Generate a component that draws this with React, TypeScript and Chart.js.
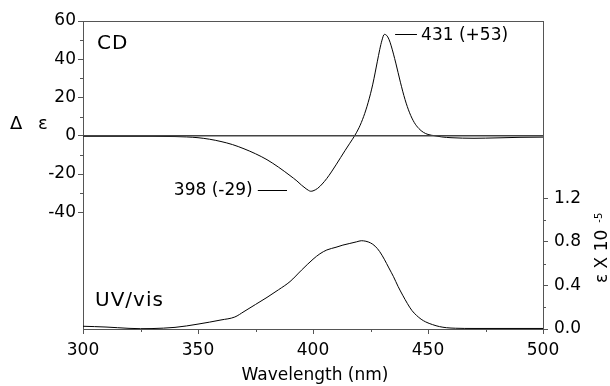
import { useEffect, useRef } from 'react';
import { Chart, registerables } from 'chart.js';

Chart.register(...registerables);

const cdWavelengths = [300, 310, 320, 330, 340, 345, 350, 355, 360, 365, 370, 375, 380, 385, 390, 393, 395, 397, 398, 399, 400, 402, 404, 406, 408, 410, 412, 414, 416, 418, 420, 422, 424, 426, 428, 429, 430, 431, 432, 433, 434, 436, 438, 440, 442, 444, 446, 448, 450, 453, 456, 460, 470, 480, 490, 500];
const cdValues = [-0.3, -0.3, -0.3, -0.3, -0.4, -0.6, -1.0, -1.8, -3.0, -4.6, -6.8, -9.4, -12.5, -16.4, -20.8, -23.6, -25.8, -27.7, -28.5, -29, -28.8, -27.5, -25.2, -22.3, -18.9, -15.2, -11.4, -7.6, -3.9, -0.2, 4.2, 10, 17.5, 27, 39, 45, 50, 53, 52.5, 50.5, 47, 38, 28, 19, 12, 7, 3.8, 1.8, 0.7, 0, -0.6, -1, -1.3, -1.1, -0.8, -0.7];

const uvWavelengths = [300, 305, 310, 315, 320, 325, 330, 335, 340, 345, 350, 355, 360, 366, 370, 375, 380, 385, 390, 395, 400, 403, 406, 410, 413, 416, 419, 421, 423, 425, 427, 429, 431, 433, 435, 437, 439, 441, 443, 445, 447, 449, 452, 455, 458, 462, 470, 480, 490, 500];
const uvValues = [0.025, 0.022, 0.018, 0.012, 0.006, 0.003, 0.004, 0.008, 0.015, 0.028, 0.045, 0.063, 0.083, 0.11, 0.16, 0.225, 0.29, 0.36, 0.435, 0.54, 0.64, 0.69, 0.725, 0.75, 0.77, 0.785, 0.8, 0.81, 0.805, 0.79, 0.76, 0.71, 0.64, 0.56, 0.48, 0.39, 0.31, 0.235, 0.17, 0.125, 0.09, 0.065, 0.04, 0.022, 0.012, 0.007, 0.005, 0.005, 0.005, 0.005];

const xTicks = [300, 350, 400, 450, 500];
const xMinorTicks = [325, 375, 425, 475];
const cdTicks = [-40, -20, 0, 20, 40, 60];
const cdMinorTicks = [-30, -10, 10, 30, 50];
const uvTicks = [0, 0.4, 0.8, 1.2];
const uvMinorTicks = [0.2, 0.6, 1.0];

const FONT = '"DejaVu Sans", sans-serif';
const AXIS = '#555';

const decorPlugin = {
  id: 'decor',
  afterDraw(chart: any) {
    const ctx = chart.ctx as CanvasRenderingContext2D;
    const { left, right, top, bottom } = chart.chartArea;
    const xs = chart.scales.x;
    const ys = chart.scales.y;
    const y2s = chart.scales.y2;
    ctx.save();
    ctx.strokeStyle = AXIS;
    ctx.lineWidth = 1;
    // top frame line
    ctx.beginPath();
    ctx.moveTo(left, Math.round(top) + 0.5);
    ctx.lineTo(right, Math.round(top) + 0.5);
    ctx.stroke();
    // minor ticks
    const mlen = 3;
    ctx.beginPath();
    xMinorTicks.forEach((v) => {
      const px = Math.round(xs.getPixelForValue(v)) + 0.5;
      ctx.moveTo(px, bottom);
      ctx.lineTo(px, bottom + mlen);
    });
    cdMinorTicks.forEach((v) => {
      const py = Math.round(ys.getPixelForValue(v)) + 0.5;
      ctx.moveTo(left, py);
      ctx.lineTo(left - mlen, py);
    });
    uvMinorTicks.forEach((v) => {
      const py = Math.round(y2s.getPixelForValue(v)) + 0.5;
      ctx.moveTo(right, py);
      ctx.lineTo(right + mlen, py);
    });
    ctx.stroke();

    // texts
    ctx.fillStyle = '#000';
    ctx.textBaseline = 'middle';
    ctx.textAlign = 'left';
    (ctx as any).letterSpacing = '1px';
    ctx.font = `20px ${FONT}`;
    ctx.fillText('CD', left + 14, top + 23);
    ctx.fillText('UV/vis', left + 12, bottom - 28);
    (ctx as any).letterSpacing = '0px';
    ctx.font = `18px ${FONT}`;
    ctx.fillText('Δ', 10, 124);
    ctx.fillText('ε', 38, 124);

    // x axis title
    ctx.font = `17px ${FONT}`;
    ctx.textAlign = 'center';
    ctx.fillText('Wavelength (nm)', (left + right) / 2 + 2, 376);

    // annotations
    ctx.textAlign = 'left';
    ctx.strokeStyle = '#000';
    ctx.beginPath();
    const p1y = Math.round(ys.getPixelForValue(53)) + 0.5;
    ctx.moveTo(xs.getPixelForValue(435.7), p1y);
    ctx.lineTo(xs.getPixelForValue(445.2), p1y);
    const p2y = Math.round(ys.getPixelForValue(-28.5)) + 0.5;
    ctx.moveTo(xs.getPixelForValue(376), p2y);
    ctx.lineTo(xs.getPixelForValue(388.7), p2y);
    ctx.stroke();
    ctx.fillText('431 (+53)', xs.getPixelForValue(447), p1y + 1);
    ctx.textAlign = 'right';
    ctx.fillText('398 (-29)', xs.getPixelForValue(373.8), p2y);

    // right axis title
    ctx.translate(607, 283);
    ctx.rotate(-Math.PI / 2);
    ctx.textAlign = 'left';
    ctx.textBaseline = 'alphabetic';
    ctx.font = `17px ${FONT}`;
    const main = 'ε X 10';
    ctx.fillText(main, 0, 0);
    const w = ctx.measureText(main).width;
    ctx.font = `10px ${FONT}`;
    ctx.fillText('-5', w + 7, -5);
    ctx.restore();
  },
};

export default function App() {
  const ref = useRef<HTMLCanvasElement | null>(null);
  useEffect(() => {
    if (!ref.current) return;
    const tickFont = { size: 17, family: FONT };
    const chart = new Chart(ref.current, {
      type: 'line',
      data: {
        datasets: [
          {
            data: [{ x: 300, y: 0 }, { x: 500, y: 0 }],
            borderColor: '#444',
            borderWidth: 1.5,
            yAxisID: 'y',
            pointRadius: 0,
          },
          {
            data: cdWavelengths.map((x, i) => ({ x, y: cdValues[i] })),
            borderColor: '#000',
            borderWidth: 1,
            yAxisID: 'y',
            pointRadius: 0,
            cubicInterpolationMode: 'monotone',
          },
          {
            data: uvWavelengths.map((x, i) => ({ x, y: uvValues[i] })),
            borderColor: '#000',
            borderWidth: 1,
            yAxisID: 'y2',
            pointRadius: 0,
            cubicInterpolationMode: 'monotone',
          },
        ],
      },
      options: {
        responsive: false,
        animation: false,
        layout: { padding: { top: 21, left: 0, right: 0, bottom: 0 } },
        plugins: { legend: { display: false }, tooltip: { enabled: false } },
        scales: {
          x: {
            type: 'linear',
            min: 300,
            max: 500,
            afterBuildTicks: (s: any) => {
              s.ticks = xTicks.map((v) => ({ value: v }));
            },
            afterFit: (s: any) => {
              s.height = 57;
            },
            grid: { drawOnChartArea: false, tickLength: 5, tickColor: AXIS },
            border: { color: AXIS, width: 1 },
            ticks: {
              color: '#000',
              font: tickFont,
              padding: 6,
              maxRotation: 0,
              autoSkip: false,
              callback: (v: any) => String(v),
            },
          },
          y: {
            type: 'linear',
            position: 'left',
            min: -101,
            max: 60,
            afterBuildTicks: (s: any) => {
              s.ticks = cdTicks.map((v) => ({ value: v }));
            },
            afterFit: (s: any) => {
              s.width = 83;
            },
            grid: { drawOnChartArea: false, tickLength: 5, tickColor: AXIS },
            border: { color: AXIS, width: 1 },
            ticks: {
              color: '#000',
              font: tickFont,
              padding: 2,
              autoSkip: false,
              callback: (v: any) => String(v),
            },
          },
          y2: {
            type: 'linear',
            position: 'right',
            min: 0,
            max: 2.826,
            afterBuildTicks: (s: any) => {
              s.ticks = uvTicks.map((v) => ({ value: v }));
            },
            afterFit: (s: any) => {
              s.width = 67;
            },
            grid: { drawOnChartArea: false, tickLength: 5, tickColor: AXIS },
            border: { color: AXIS, width: 1 },
            ticks: {
              color: '#000',
              font: tickFont,
              padding: 6,
              autoSkip: false,
              callback: (v: any) => Number(v).toFixed(1),
            },
          },
        },
      },
      plugins: [decorPlugin],
    } as any);
    return () => chart.destroy();
  }, []);
  return (
    <div style={{ position: 'fixed', left: 0, top: 0, width: 610, height: 386, background: '#fff' }}>
      <canvas ref={ref} width={610} height={386} style={{ display: 'block', width: 610, height: 386 }} />
    </div>
  );
}
